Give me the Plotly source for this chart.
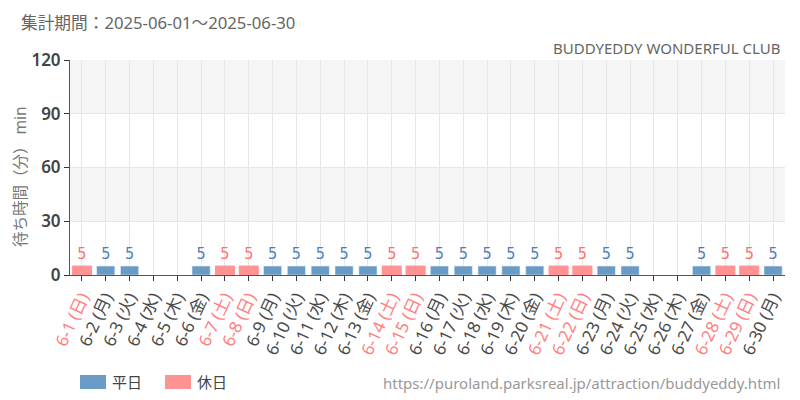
import plotly.graph_objects as go

days = list(range(1, 31))
weekdays_jp = ["日", "月", "火", "水", "木", "金", "土"]  # June 1 2025 is Sunday
dow = [weekdays_jp[(d - 1) % 7] for d in days]
holiday = [w in ("土", "日") for w in dow]
wait = [5, 5, 5, None, None, 5, 5, 5, 5, 5, 5, 5, 5, 5, 5,
        5, 5, 5, 5, 5, 5, 5, 5, 5, None, None, 5, 5, 5, 5]

categories = [f"6-{d}" for d in days]
RED_TXT = "#ff8080"
GREY_TXT = "#4a4a4a"
ticktext = [
    f"<span style='color:{RED_TXT if h else GREY_TXT}'>6-{d} ({w})</span>"
    for d, w, h in zip(days, dow, holiday)
]

weekday_vals = [v if not h else None for v, h in zip(wait, holiday)]
holiday_vals = [v if h else None for v, h in zip(wait, holiday)]

FONT = "Noto Sans, Noto Sans CJK JP"
NARROW = "DejaVu Sans Condensed"

fig = go.Figure()
fig.add_trace(go.Bar(
    x=categories, y=weekday_vals, name="平日",
    marker=dict(color="#6a9bc5"), width=0.76,
    text=weekday_vals, textposition="outside", cliponaxis=False,
    textfont=dict(family=NARROW, size=16, color="#4a80b8"),
))
fig.add_trace(go.Bar(
    x=categories, y=holiday_vals, name="休日",
    marker=dict(color="#ff9393", line=dict(color="#ff9393", width=1)), width=0.8,
    text=holiday_vals, textposition="outside", cliponaxis=False,
    textfont=dict(family=NARROW, size=16, color="#ff7070"),
))

# page offset (browser body margin) is 8px; build figure 792x392
OFF = 8
W, H = 800 - OFF, 400 - OFF
# plot area in page pixels
PL, PR, PT, PB = 70, 785, 60, 275
pw, ph = PR - PL, PB - PT


def px(x):
    return (x - PL) / pw


def py(y):
    return (PB - y) / ph


shapes = []
# alternating horizontal bands
for lo, hi in [(30, 60), (90, 120)]:
    shapes.append(dict(type="rect", xref="paper", yref="y", x0=0, x1=1, y0=lo, y1=hi,
                       fillcolor="#f5f5f5", line=dict(width=0), layer="below"))

# custom legend
shapes.append(dict(type="rect", xref="paper", yref="paper", x0=px(80), x1=px(106),
                   y0=py(389), y1=py(375), fillcolor="#6a9bc5", line=dict(width=0)))
shapes.append(dict(type="rect", xref="paper", yref="paper", x0=px(165), x1=px(191),
                   y0=py(389), y1=py(375), fillcolor="#ff9393", line=dict(width=0)))

annotations = [
    dict(text="集計期間：2025-06-01～2025-06-30", xref="paper", yref="paper",
         x=px(19), y=py(22), xanchor="left", yanchor="middle", showarrow=False,
         font=dict(family=FONT, size=16.7, color="#666666")),
    dict(text="BUDDYEDDY WONDERFUL CLUB", xref="paper", yref="paper",
         x=px(782), y=py(48), xanchor="right", yanchor="middle", showarrow=False,
         font=dict(family=FONT, size=15, color="#666666")),
    dict(text="https://puroland.parksreal.jp/attraction/buddyeddy.html", xref="paper", yref="paper",
         x=px(782), y=py(383), xanchor="right", yanchor="middle", showarrow=False,
         font=dict(family=FONT, size=15, color="#999999")),
    dict(text="平日", xref="paper", yref="paper", x=px(110), y=py(382),
         xanchor="left", yanchor="middle", showarrow=False,
         font=dict(family=FONT, size=15, color="#444444")),
    dict(text="休日", xref="paper", yref="paper", x=px(195), y=py(382),
         xanchor="left", yanchor="middle", showarrow=False,
         font=dict(family=FONT, size=15, color="#444444")),
    dict(text="待ち時間（分） min", xref="paper", yref="paper", x=px(20), y=py(176),
         xanchor="center", yanchor="middle", textangle=-90, showarrow=False,
         font=dict(family=FONT, size=15.5, color="#777777")),
]

fig.update_layout(
    width=W, height=H,
    margin=dict(l=PL - OFF, r=800 - PR, t=PT - OFF, b=400 - PB, autoexpand=False),
    paper_bgcolor="white", plot_bgcolor="white",
    barmode="overlay", showlegend=False,
    shapes=shapes, annotations=annotations,
    font=dict(family=FONT),
)
fig.update_xaxes(
    type="category", tickmode="array", tickvals=categories, ticktext=ticktext,
    tickangle=-65, tickfont=dict(family=FONT, size=17),
    showgrid=True, gridcolor="#e6e6e6", gridwidth=1,
    showline=True, linecolor="#555555", linewidth=1,
    ticks="outside", ticklen=5, tickcolor="#333333",
    range=[-0.5, 29.5],
)
fig.update_yaxes(
    range=[0, 120], tickvals=[0, 30, 60, 90, 120],
    tickfont=dict(family=FONT, size=17, color="#444444", weight=600),
    showgrid=True, gridcolor="#e6e6e6", gridwidth=1,
    showline=True, linecolor="#555555", linewidth=1,
    ticks="outside", ticklen=5, tickcolor="#333333",
    zeroline=False,
)

fig.write_html("out.html")
